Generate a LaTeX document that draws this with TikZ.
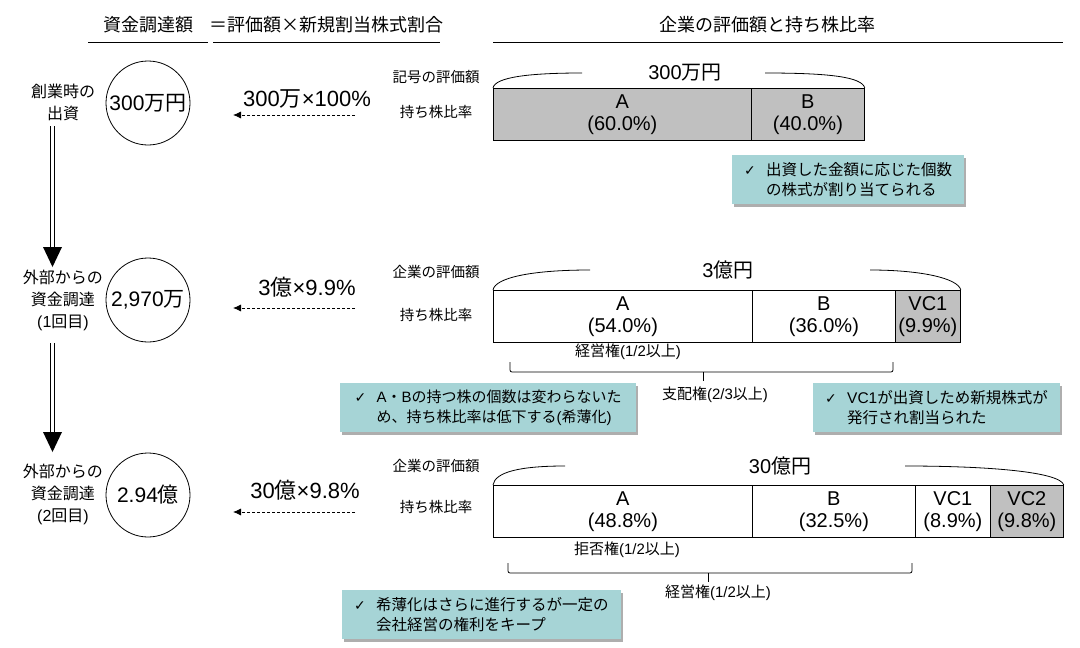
\documentclass[tikz,border=0pt]{standalone}
\usepackage{fontspec}
\setmainfont{Noto Sans CJK JP}
\newfontfamily\lat{Liberation Sans}
\newfontfamily\djv{DejaVu Sans}
\usetikzlibrary{shadows,arrows.meta}
\definecolor{noteteal}{HTML}{A6D4D6}
\definecolor{cellgray}{HTML}{C0C0C0}
\newcommand{\chk}{\makebox[22pt][l]{\djv\fontsize{14}{14}\selectfont ✓}}
\begin{document}
\begin{tikzpicture}[x=1pt,y=-1pt,
  hdr/.style={font=\fontsize{18}{20}\selectfont},
  rowlbl/.style={font=\fontsize{16}{22}\selectfont, align=center},
  circ/.style={circle, draw, line width=0.8pt, minimum size=84pt, inner sep=0pt, font=\fontsize{21}{24}\selectfont},
  formula/.style={font=\fontsize{22}{24}\selectfont},
  side/.style={font=\fontsize{14.5}{16}\selectfont},
  cell/.style={draw, line width=0.8pt, inner sep=0pt, anchor=north west, minimum height=52pt, align=center, font=\lat\fontsize{20}{22}\selectfont},
  total/.style={font=\fontsize{20}{22}\selectfont},
  right/.style={font=\fontsize{15}{17}\selectfont},
  note/.style={fill=noteteal, anchor=north west, minimum height=49pt, inner xsep=12pt, inner ysep=0pt, align=left,
    font=\fontsize{15.5}{20}\selectfont,
    drop shadow={shadow xshift=2pt, shadow yshift=-2.5pt, opacity=0.45, fill=black!70}},
  dasharrow/.style={dashed, dash pattern=on 3pt off 2pt, line width=0.8pt, -{Latex[length=8pt,width=7pt]}},
  dblshaft/.style={double, double distance=2.4pt, line width=0.9pt},
  bracearc/.style={line width=0.8pt},
  bracket/.style={line width=0.8pt, rounded corners=2pt}
]
\useasboundingbox (0,0) rectangle (1080,648);

% headers
\node[hdr] (h1) at (148,25) {資金調達額};
\node[hdr] (h2) at (326,25) {＝評価額×新規割当株式割合};
\node[hdr] (h3) at (767,25) {企業の評価額と持ち株比率};
\coordinate (h1l) at (88,42); \coordinate (h1r) at (208,42);
\coordinate (h2l) at (213,42); \coordinate (h2r) at (440,42);
\coordinate (h3l) at (493,42); \coordinate (h3r) at (1063,42);
\draw[line width=0.8pt] (h1l) -- (h1r);
\draw[line width=0.8pt] (h2l) -- (h2r);
\draw[line width=0.8pt] (h3l) -- (h3r);

% ===== row 1 =====
\node[rowlbl] (l1) at (63,102) {創業時の\\出資};
\node[circ] (c1) at (148,103) {{\lat 300}万円};
\node[formula] (f1) at (307,99) {{\lat 300}万{\lat ×100\%}};
\coordinate (f1s) at (355,115); \coordinate (f1e) at (233,115);
\draw[dasharrow] (f1s) -- (f1e);
\node[side] (s1a) at (436,77) {記号の評価額};
\node[side] (s1b) at (436,112) {持ち株比率};
\node[cell, fill=cellgray, minimum width=258pt] (r1a) at (493,88) {A\\(60.0\%)};
\node[cell, fill=cellgray, minimum width=113pt] (r1b) at (751,88) {B\\(40.0\%)};
\node[total] (t1) at (685,73) {{\lat 300}万円};
\draw[bracearc] (r1a.north west) .. controls (495,77) and (530,73) .. (582,73);
\draw[bracearc] (765,73) .. controls (830,73) and (862,77) .. (r1b.north east);
\node[note, minimum width=230pt] (n1) at (732,155) {\chk 出資した金額に応じた個数\\\hspace*{22pt}の株式が割り当てられる};

% double arrow 1
\coordinate (d1s) at (52.5,126); \coordinate (d1e) at (52.5,249);
\draw[dblshaft] (d1s) -- (d1e);
\fill (43,247) -- (62,247) -- (52.5,267) -- cycle;

% ===== row 2 =====
\node[rowlbl] (l2) at (63,300) {外部からの\\資金調達\\{\lat (1}回目{\lat )}};
\node[circ] (c2) at (148,300) {{\lat 2,970}万};
\node[formula] (f2) at (307,287) {{\lat 3}億{\lat ×9.9\%}};
\coordinate (f2s) at (355,308); \coordinate (f2e) at (233,308);
\draw[dasharrow] (f2s) -- (f2e);
\node[side] (s2a) at (436,272) {企業の評価額};
\node[side] (s2b) at (436,315) {持ち株比率};
\node[cell, fill=white, minimum width=259pt] (r2a) at (493,290) {A\\(54.0\%)};
\node[cell, fill=white, minimum width=143pt] (r2b) at (752,290) {B\\(36.0\%)};
\node[cell, fill=cellgray, minimum width=65pt] (r2c) at (895,290) {VC1\\(9.9\%)};
\node[total] (t2) at (728,270) {{\lat 3}億円};
\draw[bracearc] (r2a.north west) .. controls (495,278) and (530,270) .. (590,270);
\draw[bracearc] (870,270) .. controls (920,270) and (958,278) .. (r2c.north east);
\node[right] (k2) at (628,352) {経営権{\lat (1/2}以上{\lat )}};
\coordinate (b2l) at (510,362); \coordinate (b2r) at (893,362); \coordinate (b2m) at (703,381);
\draw[bracket] (b2l) -- (510,372) -- (893,372) -- (b2r);
\draw[line width=0.8pt] (703,372) -- (b2m);
\node[right] (k2b) at (715,395) {支配権{\lat (2/3}以上{\lat )}};
\node[note, minimum width=296pt, font=\fontsize{15}{20}\selectfont] (n2) at (340,383) {\chk{\lat A}・{\lat B}の持つ株の個数は変わらないた\\\hspace*{22pt}め、持ち株比率は低下する{\lat (}希薄化{\lat )}};
\node[note, minimum width=245pt] (n3) at (813,383) {\chk{\lat VC1}が出資しため新規株式が\\\hspace*{22pt}発行され割当られた};

% double arrow 2
\coordinate (d2s) at (52.5,343); \coordinate (d2e) at (52.5,434);
\draw[dblshaft] (d2s) -- (d2e);
\fill (43,432) -- (62,432) -- (52.5,452) -- cycle;

% ===== row 3 =====
\node[rowlbl] (l3) at (63,494) {外部からの\\資金調達\\{\lat (2}回目{\lat )}};
\node[circ] (c3) at (148,495) {{\lat 2.94}億};
\node[formula] (f3) at (305,490) {{\lat 30}億{\lat ×9.8\%}};
\coordinate (f3s) at (355,512); \coordinate (f3e) at (233,512);
\draw[dasharrow] (f3s) -- (f3e);
\node[side] (s3a) at (436,466) {企業の評価額};
\node[side] (s3b) at (436,507) {持ち株比率};
\node[cell, fill=white, minimum width=259pt] (r3a) at (493,485) {A\\(48.8\%)};
\node[cell, fill=white, minimum width=163pt] (r3b) at (752,485) {B\\(32.5\%)};
\node[cell, fill=white, minimum width=75pt] (r3c) at (915,485) {VC1\\(8.9\%)};
\node[cell, fill=cellgray, minimum width=73pt] (r3d) at (990,485) {VC2\\(9.8\%)};
\node[total] (t3) at (780,466) {{\lat 30}億円};
\draw[bracearc] (r3a.north west) .. controls (495,472) and (520,466) .. (565,466);
\draw[bracearc] (905,466) .. controls (990,466) and (1060,472) .. (r3d.north east);
\node[right] (k3) at (627,550) {拒否権{\lat (1/2}以上{\lat )}};
\coordinate (b3l) at (508,563); \coordinate (b3r) at (912,563); \coordinate (b3m) at (708,582);
\draw[bracket] (b3l) -- (508,573) -- (912,573) -- (b3r);
\draw[line width=0.8pt] (708,573) -- (b3m);
\node[right] (k3b) at (718,593) {経営権{\lat (1/2}以上{\lat )}};
\node[note, minimum width=270pt] (n4) at (342,590) {\chk 希薄化はさらに進行するが一定の\\\hspace*{22pt}会社経営の権利をキープ};
\end{tikzpicture}
\end{document}
